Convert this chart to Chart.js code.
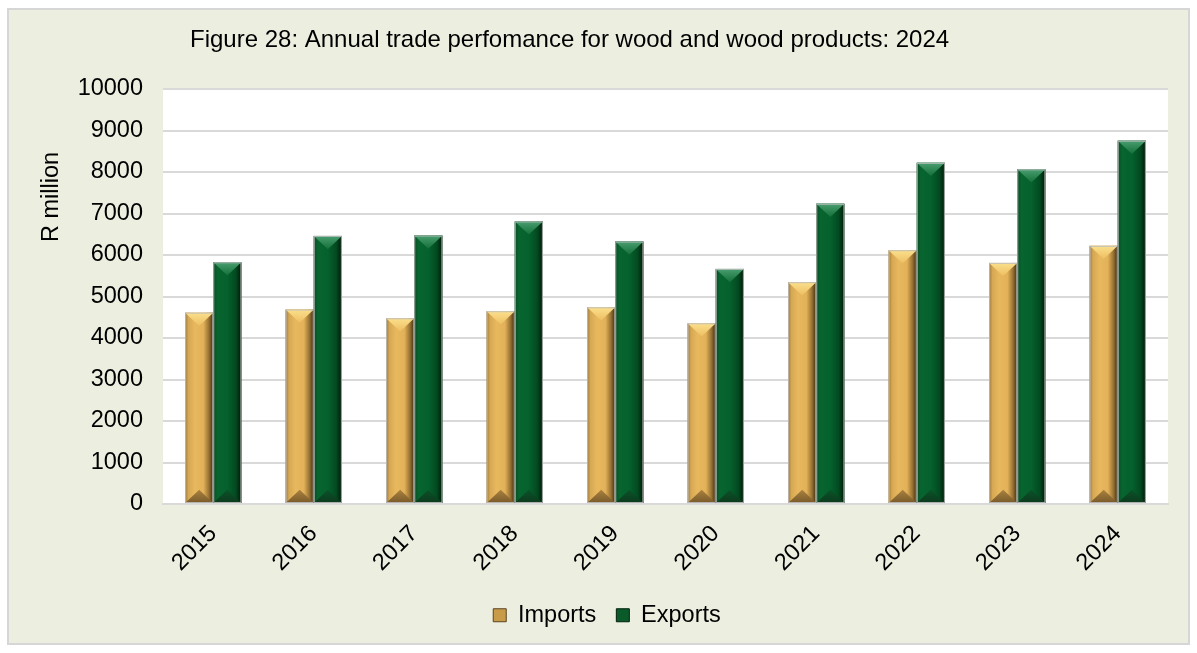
<!DOCTYPE html>
<html>
<head>
<meta charset="utf-8">
<script src="https://cdn.jsdelivr.net/npm/chart.js@4.4.1/dist/chart.umd.min.js"></script>
<style>
  html, body { margin: 0; padding: 0; background: #ffffff; }
  #wrap { width: 1197px; height: 653px; position: relative; }
</style>
</head>
<body>
<div id="wrap"><canvas id="tradeChart" width="1197" height="653"></canvas></div>
<script>
// wood and wood products trade, R million
const years = ['2015', '2016', '2017', '2018', '2019', '2020', '2021', '2022', '2023', '2024'];
const imports = [4610, 4685, 4475, 4645, 4740, 4355, 5345, 6115, 5810, 6220];
const exports = [5825, 6460, 6470, 6810, 6325, 5665, 7235, 8220, 8065, 8755];
const yTicks = [0, 1000, 2000, 3000, 4000, 5000, 6000, 7000, 8000, 9000, 10000];

const FONT = '"Liberation Sans", Arial, sans-serif';
const FS = 23.5;

// colour sets for the bevelled bars
const bevel = {
  Imports: {
    side: [[0, '#9E7738'], [0.12, '#D6A853'], [0.35, '#E8B85E'], [0.65, '#E2B159'], [0.84, '#9A7434'], [1, '#3F2D12']],
    top: ['#FBE08C', '#EDBE62'],
    bottom: ['#7A5A2A', '#A8813F']
  },
  Exports: {
    side: [[0, '#0B4B23'], [0.15, '#07652F'], [0.5, '#05612D'], [0.8, '#034A21'], [1, '#001806']],
    top: ['#4A9E70', '#137038'],
    bottom: ['#0C3A1D', '#0A5228']
  }
};

const backdrop = {
  id: 'backdrop',
  beforeDraw(chart) {
    const {ctx, chartArea: a} = chart;
    ctx.save();
    ctx.fillStyle = '#ffffff';
    ctx.fillRect(0, 0, chart.width, chart.height);
    ctx.fillStyle = '#ECEFE0';
    ctx.fillRect(8, 9, 1181, 635);
    ctx.strokeStyle = '#D6D6D6';
    ctx.lineWidth = 2;
    ctx.strokeRect(8, 9, 1181, 635);
    ctx.fillStyle = '#ffffff';
    ctx.fillRect(a.left, a.top, a.right - a.left, a.bottom - a.top);
    ctx.restore();
  },
  afterDraw(chart) {
    const ctx = chart.ctx;
    ctx.save();
    ctx.fillStyle = '#000';
    ctx.font = '24px ' + FONT;
    ctx.textBaseline = 'alphabetic';
    ctx.textAlign = 'left';
    ctx.fillText('Figure 28: Annual trade perfomance for wood and wood products: 2024', 190, 47);
    ctx.font = FS + 'px ' + FONT;
    ctx.translate(52, 197);
    ctx.rotate(-Math.PI / 2);
    ctx.textAlign = 'center';
    ctx.textBaseline = 'middle';
    ctx.fillText('R million', 0, 0);
    ctx.restore();
  }
};

// paints each bar with a side gradient plus top and bottom bevel triangles
const bevelBars = {
  id: 'bevelBars',
  afterDatasetsDraw(chart) {
    const ctx = chart.ctx;
    chart.data.datasets.forEach((ds, i) => {
      const meta = chart.getDatasetMeta(i);
      const c = bevel[ds.label];
      meta.data.forEach(bar => {
        const l = bar.x - bar.width / 2, r = bar.x + bar.width / 2;
        const t = bar.y, b = bar.base, w = bar.width;
        const d = Math.min(w * 0.47, (b - t) / 2);
        ctx.save();
        const g = ctx.createLinearGradient(l, 0, r, 0);
        c.side.forEach(s => g.addColorStop(s[0], s[1]));
        ctx.fillStyle = g;
        ctx.fillRect(l, t, w, b - t);

        const gt = ctx.createLinearGradient(0, t, 0, t + d);
        gt.addColorStop(0, c.top[0]);
        gt.addColorStop(1, c.top[1]);
        ctx.fillStyle = gt;
        ctx.beginPath();
        ctx.moveTo(l, t); ctx.lineTo(r, t); ctx.lineTo(bar.x, t + d); ctx.closePath();
        ctx.fill();

        const gb = ctx.createLinearGradient(0, b, 0, b - d);
        gb.addColorStop(0, c.bottom[0]);
        gb.addColorStop(1, c.bottom[1]);
        ctx.fillStyle = gb;
        ctx.beginPath();
        ctx.moveTo(l, b); ctx.lineTo(r, b); ctx.lineTo(bar.x, b - d); ctx.closePath();
        ctx.fill();

        ctx.strokeStyle = 'rgba(190,190,190,0.9)';
        ctx.lineWidth = 1;
        ctx.strokeRect(l + 0.5, t + 0.5, w - 1, b - t - 1);
        ctx.restore();
      });
    });
  }
};

const PAD_BOTTOM = 16;

new Chart(document.getElementById('tradeChart'), {
  type: 'bar',
  data: {
    labels: years,
    datasets: [
      { label: 'Imports', data: imports, backgroundColor: '#C89B48', borderColor: '#5A4320', borderWidth: 0 },
      { label: 'Exports', data: exports, backgroundColor: '#0A5A2A', borderColor: '#01200C', borderWidth: 0 }
    ]
  },
  options: {
    responsive: false,
    animation: false,
    devicePixelRatio: 1,
    layout: { padding: { left: 46, right: 29, top: 89, bottom: PAD_BOTTOM } },
    datasets: { bar: { categoryPercentage: 0.56, barPercentage: 1.0 } },
    plugins: {
      title: { display: false },
      tooltip: { enabled: false },
      legend: {
        position: 'bottom',
        labels: {
          font: { family: FONT, size: FS },
          color: '#000',
          boxWidth: 13,
          boxHeight: 13,
          padding: 20,
          generateLabels(chart) {
            return chart.data.datasets.map((ds, i) => ({
              text: ds.label,
              fillStyle: ds.backgroundColor,
              strokeStyle: ds.borderColor,
              lineWidth: 1,
              hidden: false,
              datasetIndex: i
            }));
          }
        }
      }
    },
    scales: {
      x: {
        grid: { display: false },
        border: { display: true, color: '#D9D9D9', width: 2 },
        ticks: {
          font: { family: FONT, size: FS },
          color: '#000',
          minRotation: 45,
          maxRotation: 45,
          padding: 8
        },
        afterFit(scale) {
          scale.height = 653 - PAD_BOTTOM - scale.chart.legend.height - 504;
        }
      },
      y: {
        min: 0,
        max: 10000,
        afterBuildTicks(scale) {
          scale.ticks = yTicks.map(v => ({ value: v }));
        },
        grid: { color: '#D9D9D9', lineWidth: 2, drawTicks: false },
        border: { display: false },
        ticks: {
          font: { family: FONT, size: FS },
          color: '#000',
          padding: 20,
          callback: v => String(v)
        },
        afterFit(scale) {
          scale.width = 163 - 46;
        }
      }
    }
  },
  plugins: [backdrop, bevelBars]
});
</script>
</body>
</html>
